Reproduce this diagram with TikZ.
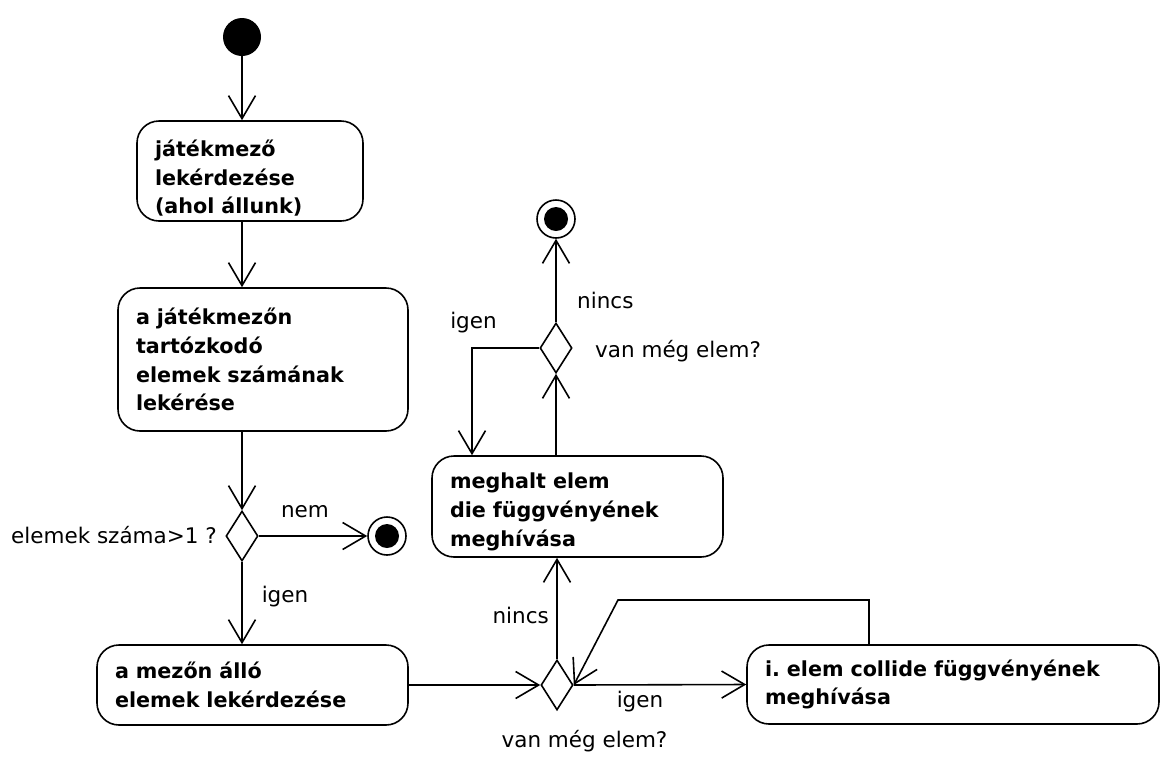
\documentclass[tikz,border=0pt]{standalone}
\usepackage{fontspec}
\setmainfont{DejaVu Sans}
\usetikzlibrary{arrows.meta,shapes.geometric}

\tikzset{
  base/.style={line width=1.6pt, draw=black},
  activity/.style={base, rectangle, rounded corners=22pt, fill=white,
    align=left, inner xsep=18pt, inner ysep=0pt,
    font=\fontsize{20.7}{28.8}\selectfont\bfseries\frenchspacing},
  decision/.style={base, diamond, fill=white, minimum width=32pt,
    minimum height=50pt, inner sep=0pt},
  initial/.style={circle, fill=black, minimum size=38pt, inner sep=0pt},
  final/.style={base, circle, fill=white, minimum size=38pt, inner sep=0pt},
  flow/.style={line width=1.6pt, -{Straight Barb[length=23pt, width=27pt]}},
  lbl/.style={inner sep=0pt, font=\fontsize{21.5}{26}\selectfont},
}

\begin{document}
\begin{tikzpicture}[x=1pt, y=-1pt]
  \useasboundingbox (0,0) rectangle (1161,756);

  % start and activities of the left column
  \node[initial] (start) at (242,37) {};
  \node[activity, text width=190pt, minimum height=100pt] (box1) at (250,171)
    {\rule{0pt}{31pt}játékmező\\lekérdezése\\(ahol állunk)};
  \node[activity, text width=254pt, minimum height=143pt] (box2) at (263,359.5)
    {a játékmezőn\\tartózkodó\\elemek számának\\lekérése};
  \node[decision] (dec1) at (242,536) {};
  \node[final] (end1) at (387,536) {};
  \fill (end1.center) circle (12);
  \node[activity, text width=275pt, minimum height=80pt] (box3) at (252.5,685)
    {a mezőn álló\\elemek lekérdezése};

  % loop over the elements
  \node[decision] (dec2) at (557,685) {};
  \node[activity, text width=376pt, minimum height=79pt] (box4) at (953,684.5)
    {i. elem collide függvényének\\meghívása};
  \node[activity, text width=255pt, minimum height=101pt] (box5) at (577.5,506.5)
    {\rule{0pt}{26pt}meghalt elem\\die függvényének\\meghívása};
  \node[decision] (dec3) at (556,348) {};
  \node[final] (end2) at (556,219) {};
  \fill (end2.center) circle (12);

  % guard and decision texts
  \node[lbl, anchor=base east] (q1) at (217,543) {elemek száma>1 ?};
  \node[lbl, anchor=base] (nem) at (305,517) {nem};
  \node[lbl, anchor=base] (igen1) at (285,602) {igen};
  \node[lbl, anchor=base] (q2) at (584.5,747) {van még elem?};
  \node[lbl, anchor=base] (igen2) at (640,707) {igen};
  \node[lbl, anchor=base east] (nincs1) at (549,623) {nincs};
  \node[lbl, anchor=base west] (q3) at (595,357) {van még elem?};
  \node[lbl, anchor=base west] (nincs2) at (577,308) {nincs};
  \node[lbl, anchor=base] (igen3) at (473.5,328) {igen};

  \coordinate (lp1) at (869,600);
  \coordinate (lp2) at (618,600);
  \coordinate (lp3) at (472,348);

  % control flow
  \draw[flow] (start) -- (start |- box1.north);
  \draw[flow] (box1.south -| start) -- (box2.north -| start);
  \draw[flow] (box2.south -| dec1) -- (dec1.north);
  \draw[flow] (dec1.east) -- (end1.west);
  \draw[flow] (dec1.south) -- (box3.north -| dec1);
  \draw[flow] (box3.east) -- (dec2.west);
  \draw[flow] (dec2.east) -- (box4.west);
  \draw[flow] (box4.north -| lp1) -- (lp1) -- (lp2) -- (dec2.east);
  \draw[flow] (dec2.north) -- (box5.south -| dec2);
  \draw[flow] (box5.north -| dec3) -- (dec3.south);
  \draw[flow] (dec3.north) -- (end2.south);
  \draw[flow] (dec3.west) -- (lp3) -- (lp3 |- box5.north);
\end{tikzpicture}
\end{document}
